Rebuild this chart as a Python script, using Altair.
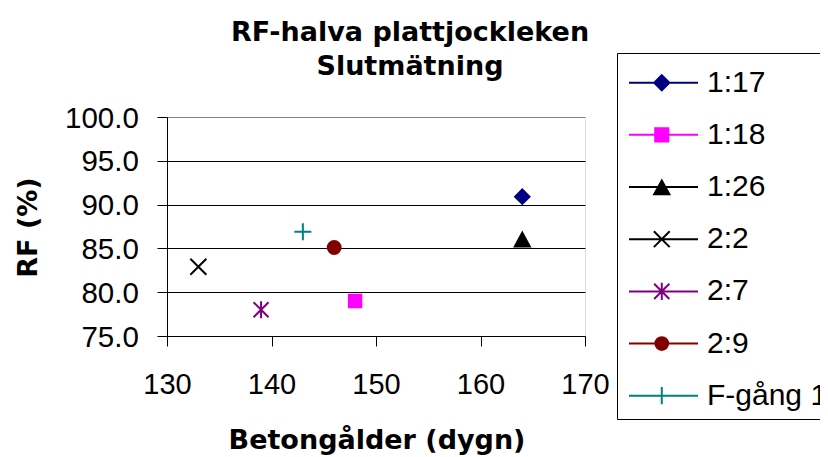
import altair as alt
import pandas as pd

series = ["1:17", "1:18", "1:26", "2:2", "2:7", "2:9", "F-gång 1"]
alder = [164, 148, 164, 133, 139, 146, 143]
rf = [90.9, 79.0, 86.0, 82.9, 78.0, 85.1, 86.9]
colors = ["#000080", "#FF00FF", "#000000", "#000000", "#800080", "#800000", "#008080"]
x_ticks = [130, 140, 150, 160, 170]
y_ticks = [75, 80, 85, 90, 95, 100]

plot_shapes = [
    "M0,-0.72L0.72,0L0,0.72L-0.72,0Z",
    "M-0.62,-0.62H0.62V0.62H-0.62Z",
    "M0,-0.7L0.75,0.68H-0.75Z",
    "M-0.8,-0.8L0.8,0.8M-0.8,0.8L0.8,-0.8",
    "M-0.75,-0.75L0.75,0.75M-0.75,0.75L0.75,-0.75M0,-0.85V0.85",
    "M0.64,0A0.64,0.64 0 1 1 -0.64,0A0.64,0.64 0 1 1 0.64,0Z",
    "M-0.85,0H0.85M0,-0.85V0.85",
]
legend_shapes = [
    "M-1,0H1M-0.05,-0.22L0.17,0L-0.05,0.22L-0.27,0Z",
    "M-1,0H1M-0.24,-0.19H0.14V0.19H-0.24Z",
    "M-1,0H1M-0.05,-0.19L0.17,0.21H-0.27Z",
    "M-1,0H1M-0.28,-0.23L0.18,0.23M-0.28,0.23L0.18,-0.23",
    "M-1,0H1M-0.27,-0.22L0.17,0.22M-0.27,0.22L0.17,-0.22M-0.05,-0.25V0.25",
    "M-1,0H1M0.135,0A0.185,0.185 0 1 1 -0.235,0A0.185,0.185 0 1 1 0.135,0Z",
    "M-1,0H1M-0.05,-0.25V0.25",
]

df = pd.DataFrame({"serie": series, "alder": alder, "rf": rf})
base = alt.Chart(df)

x_enc = alt.X(
    "alder:Q",
    scale=alt.Scale(domain=[130, 170], nice=False, zero=False),
    axis=alt.Axis(
        values=x_ticks, format="d", grid=False,
        labelFont="Liberation Sans", labelFontSize=29, labelColor="black",
        labelBaseline="alphabetic", labelPadding=47, labelFlush=False, labelOverlap=False,
        tickSize=10, tickColor="black", domainColor="black",
        title="Betongålder (dygn)", titleFont="DejaVu Sans", titleFontSize=27,
        titleFontWeight="bold", titleColor="black", titleX=209.5, titleY=112,
        titleAlign="center", titleBaseline="alphabetic",
    ),
)
y_enc = alt.Y(
    "rf:Q",
    scale=alt.Scale(domain=[75, 100], nice=False, zero=False),
    axis=alt.Axis(
        values=y_ticks, format=".1f", grid=True,
        gridColor={"condition": {"test": "datum.value == 100", "value": "#808080"}, "value": "black"},
        labelFont="Liberation Sans", labelFontSize=29.5, labelColor="black",
        labelPadding=18.7, labelFlush=False, labelOverlap=False, labelOffset=1,
        tickSize=10, tickColor="black", domainColor="black",
        title="RF (%)", titleFont="DejaVu Sans", titleFontSize=27,
        titleFontWeight="bold", titleColor="black", titleX=-130.5, titleY=110,
        titleAngle=270, titleAlign="center", titleBaseline="alphabetic",
    ),
)

points = base.mark_point(filled=True, opacity=1, size=400, strokeWidth=2).encode(
    x=x_enc,
    y=y_enc,
    shape=alt.Shape("serie:N", scale=alt.Scale(domain=series, range=plot_shapes), legend=None),
    fill=alt.Fill("serie:N", scale=alt.Scale(domain=series, range=colors), legend=None),
    stroke=alt.Stroke("serie:N", scale=alt.Scale(domain=series, range=colors), legend=None),
)

leg = alt.Legend(
    title=" ", titleFontSize=2, titlePadding=5.4,
    orient="none", legendX=450, legendY=-64,
    padding=7.3, symbolSize=4761, symbolStrokeWidth=2, symbolOffset=3.7,
    clipHeight=30, rowPadding=22.17,
    labelFont="Liberation Sans", labelFontSize=30, labelColor="black",
    labelOffset=8, labelLimit=400,
    strokeColor="black", fillColor="white",
)

legend_layer = base.transform_filter("false").mark_point(
    filled=True, opacity=1, strokeWidth=2
).encode(
    shape=alt.Shape("serie:N", scale=alt.Scale(domain=series, range=legend_shapes), legend=leg),
    fill=alt.Fill("serie:N", scale=alt.Scale(domain=series, range=colors), legend=leg),
    stroke=alt.Stroke("serie:N", scale=alt.Scale(domain=series, range=colors), legend=leg),
)

chart = alt.layer(points, legend_layer).resolve_scale(
    shape="independent", fill="independent", stroke="independent"
).properties(
    width=418,
    height=219,
    padding={"left": 159, "top": 109, "right": 235, "bottom": 121},
    autosize=alt.AutoSizeParams(type="none"),
    title=alt.TitleParams(
        text=["RF-halva plattjockleken", "Slutmätning"],
        font="DejaVu Sans", fontSize=27, fontWeight="bold", color="black",
        anchor="middle", lineHeight=34, dx=34, dy=28, offset=0,
    ),
).configure_view(stroke="#808080", strokeWidth=2).configure(background="white")

chart.save("out.html", embed_options={"renderer": "svg", "actions": False})
